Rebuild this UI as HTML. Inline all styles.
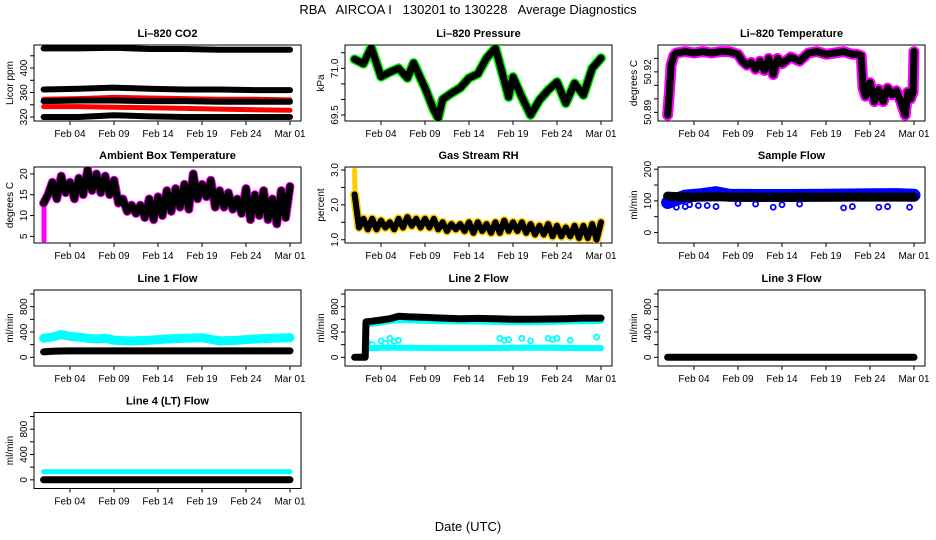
<!DOCTYPE html>
<html><head><meta charset="utf-8">
<style>
html,body{margin:0;padding:0;background:#fff;}
svg{display:block;font-family:"Liberation Sans",sans-serif;}
</style></head>
<body>
<svg id="chart" width="936" height="540" viewBox="0 0 936 540">
<text x="468" y="14" text-anchor="middle" font-size="13" style="white-space:pre">RBA   AIRCOA I   130201 to 130228   Average Diagnostics</text>
<text x="468" y="531" text-anchor="middle" font-size="13">Date (UTC)</text>
</svg>
<script>
const xTickLabels = ["Feb 04","Feb 09","Feb 14","Feb 19","Feb 24","Mar 01"];
const xTickDays = [3,8,13,18,23,28];

const co2Days = [0,4,8,12,16,20,24,28];
const co2Top = [432,432,433,431,431,430,430,430];
const co2Mid = [365,366,368,366,365,365,364,364];
const co2Low = [346,347,347,346,346,345,345,345];
const co2Ref = [320,320,323,321,320,320,320,320];
const co2RedHi = [349,350,352,351,350,349,349,348];
const co2RedCirc = [337,337,336,335,334,333,332,331];

const presDays = [0,1,1.9,3,4,5,6,6.7,8,9,9.5,10,11,12,13,14,15,16,17,17.5,18,19,20,21,22,23,24,25,26,27,28];
const presVals = [71.29,71.15,71.67,70.73,70.88,71.0,70.69,71.17,70.37,69.66,69.4,70.0,70.2,70.37,70.69,70.82,71.33,71.65,70.62,70.08,70.72,70.08,69.5,69.98,70.3,70.56,69.88,70.52,70.14,71.0,71.33];

const tempDays = [0,0.2,0.4,0.7,1,2,3,4,5,6,7,8,8.5,9,9.5,10,10.5,11,11.5,12,12.5,13,14,15,16,17,18,19,20,21,21.5,22,22.2,22.5,23,23.5,24,24.5,25,25.5,26,26.5,27,27.3,27.6,27.9,28];
const tempVals = [50.888,50.905,50.925,50.932,50.934,50.935,50.934,50.935,50.934,50.935,50.935,50.933,50.928,50.925,50.927,50.922,50.928,50.921,50.93,50.918,50.93,50.926,50.931,50.928,50.934,50.935,50.933,50.934,50.935,50.933,50.933,50.932,50.908,50.902,50.912,50.898,50.907,50.898,50.908,50.903,50.906,50.898,50.888,50.905,50.9,50.905,50.935];

const halfDays = [0,0.5,1,1.5,2,2.5,3,3.5,4,4.5,5,5.5,6,6.5,7,7.5,8,8.5,9,9.5,10,10.5,11,11.5,12,12.5,13,13.5,14,14.5,15,15.5,16,16.5,17,17.5,18,18.5,19,19.5,20,20.5,21,21.5,22,22.5,23,23.5,24,24.5,25,25.5,26,26.5,27,27.5,28];
const ambVals = [13,15,18,14,19.5,15.5,18,14,19,15,21,16,20,15.5,19.5,15,18.5,13,14,11,12.5,10.5,12.5,9.5,14,9,14.5,10,16,11,16.5,12,17.5,11.5,20,14,17.5,14.5,18.5,12,16,12,15.5,11.5,14,10.5,16.5,9,15,10,16,9,14,8,16,9.5,17];
const ambStartVals = [4,9,13];
const rhVals = [2.3,1.35,1.6,1.3,1.6,1.3,1.55,1.35,1.5,1.3,1.6,1.35,1.65,1.4,1.6,1.35,1.6,1.35,1.6,1.3,1.5,1.25,1.45,1.3,1.45,1.25,1.5,1.2,1.5,1.25,1.45,1.2,1.5,1.2,1.55,1.25,1.5,1.25,1.5,1.2,1.45,1.15,1.4,1.15,1.45,1.1,1.4,1.1,1.35,1.1,1.4,1.05,1.4,1.05,1.45,1.0,1.5];
const rhYellowStart = [3.0,2.4,1.5];

const sampleDays = [0,2,4,5.5,7,10,14,18,22,26,28];
const sampleBlue = [95,115,120,126,118,117,117,118,119,120,118];
const sampleBlack = [115,112,112,113,112,112,112,112,112,112,112];
const sampleOutDays = [0.5,1,2,2.5,3.5,4.5,5.5,8,10,12,13,15,20,21,24,25,27.5];
const sampleOutVals = [90,80,82,88,85,85,82,92,90,80,88,90,78,82,80,82,80];

const l1Days = [0,1,2,3,4,5,6,7,8,10,12,14,16,18,20,22,24,26,28];
const l1Cyan = [300,320,360,330,320,300,290,300,270,260,270,290,300,310,260,270,290,300,310];
const l1Black = [85,95,100,102,102,102,102,102,102,102,102,102,102,102,102,102,102,102,102];

const l2Days = [0,1.2,1.3,2,3,4,5,6,8,10,12,14,16,18,20,22,24,26,28];
const l2Black = [0,0,560,570,590,610,650,640,630,620,610,615,610,600,600,605,610,620,620];
const l2CyanHi = [0,0,520,530,550,570,590,585,575,570,565,565,560,555,555,560,565,570,575];
const l2CyanLowDays = [1.3,3,6,10,14,18,22,26,28];
const l2CyanLow = [140,150,150,145,145,150,150,145,145];
const l2OutDays = [1.5,2,3,3.5,4,4.5,5,16.5,17,17.5,19,20,22,22.5,23,24.5,27.5];
const l2OutVals = [230,200,260,220,300,250,270,300,270,280,300,260,300,280,300,270,320];

const l3Days = [0,28];
const l3Black = [0,0];
const l4Days = [0,28];
const l4Cyan = [130,130];
const l4Black = [0,0];

const svg = document.getElementById('chart');
const NS = 'http://www.w3.org/2000/svg';
function mk(tag, attrs, parent){
  const e = document.createElementNS(NS, tag);
  for (const k in attrs) e.setAttribute(k, attrs[k]);
  (parent||svg).appendChild(e);
  return e;
}
const W = 267, H = 76;
function makePanel(name, bx, by, title, ylab, yMin, yMax, ticks, labels){
  const g = mk('g', {});
  
  
  const xs = d => bx + 9.6 + 8.8 * d;
  const ys = v => by + H - (v - yMin) / (yMax - yMin) * H;
  const t = mk('text', {x: bx + W/2, y: by - 8, 'text-anchor':'middle', 'font-size':11, 'font-weight':'bold'}, g);
  t.textContent = title;
  
  
  const box = mk('rect', {x: bx, y: by, width: W, height: H, fill:'none', stroke:'#000', 'stroke-width':1}, g);
  
  
  const xa = mk('g', {}, g);
  
  
  mk('line', {x1: bx, x2: bx + W, y1: by + H, y2: by + H, stroke:'#000'}, xa);
  xTickDays.forEach((d, i) => {
    mk('line', {x1: xs(d), x2: xs(d), y1: by + H, y2: by + H + 4, stroke:'#000'}, xa);
    const tl = mk('text', {x: xs(d), y: by + H + 16, 'text-anchor':'middle', 'font-size':10}, xa);
    tl.textContent = xTickLabels[i];
  });
  const ya = mk('g', {}, g);
  
  
  ticks.forEach(v => {
    mk('line', {x1: bx - 4, x2: bx, y1: ys(v), y2: ys(v), stroke:'#000'}, ya);
  });
  labels.forEach(v => {
    const yl = mk('text', {x: 0, y: 0, 'text-anchor':'middle', 'font-size':10,
      transform: 'translate(' + (bx - 7) + ',' + ys(v) + ') rotate(-90)'}, ya);
    yl.textContent = String(v);
  });
  const yt = mk('text', {x:0, y:0, 'text-anchor':'middle', 'font-size':10,
    transform: 'translate(' + (bx - 21) + ',' + (by + H/2) + ') rotate(-90)'}, g);
  yt.textContent = ylab;
  
  
  const clip = 'clip-' + name;
  const cp = mk('clipPath', {id: clip}, g);
  mk('rect', {x: bx, y: by, width: W, height: H}, cp);
  const plot = mk('g', {'clip-path': 'url(#' + clip + ')'}, g);
  return {xs, ys, plot};
}
function band(p, days, vals, color, w, name){
  const pts = days.map((d, i) => p.xs(d).toFixed(1) + ',' + p.ys(vals[i]).toFixed(1)).join(' ');
  const e = mk('polyline', {points: pts, fill:'none', stroke: color, 'stroke-width': w, 'stroke-linejoin':'round', 'stroke-linecap':'round'}, p.plot);
  
  
}
function dots(p, days, vals, color, name){
  days.forEach((d, i) => {
    const c = mk('circle', {cx: p.xs(d), cy: p.ys(vals[i]), r: 2.5, fill:'none', stroke: color, 'stroke-width': 1.8}, p.plot);
    
    
  });
}
const rows = [45, 167, 290, 412.5];
const cols = [34, 345, 658];
const flowTicks = [0,200,400,600,800,1000];
const flowLabels = [0,400,800];

let p = makePanel('co2', cols[0], rows[0], 'Li\u2013820 CO2', 'Licor ppm', 313.5, 437.6, [320,340,360,380,400,420], [320,360,400]);
band(p, co2Days, co2RedHi, '#f00', 5, 'co2-red-upper-series');
band(p, co2Days, co2RedCirc, '#f00', 5, 'co2-red-lower-series');
band(p, co2Days, co2Top, '#000', 6, 'co2-black-top-series');
band(p, co2Days, co2Mid, '#000', 6, 'co2-black-mid-series');
band(p, co2Days, co2Low, '#000', 6, 'co2-black-low-series');
band(p, co2Days, co2Ref, '#000', 6, 'co2-black-ref-series');

p = makePanel('pressure', cols[1], rows[0], 'Li\u2013820 Pressure', 'kPa', 69.307, 71.75, [69.5,70.0,70.5,71.0,71.5], ['69.5','71.0']);
band(p, presDays, presVals, '#0e0', 10, 'pressure-green-series');
band(p, presDays, presVals, '#000', 7, 'pressure-black-series');

p = makePanel('li820-temp', cols[2], rows[0], 'Li\u2013820 Temperature', 'degrees C', 50.8836, 50.9399, [50.89,50.90,50.91,50.92,50.93], ['50.89','50.92']);
band(p, tempDays, tempVals, '#f0f', 11, 'li820-temp-magenta-series');
band(p, tempDays, tempVals, '#000', 7, 'li820-temp-black-series');

p = makePanel('ambient-temp', cols[0], rows[1], 'Ambient Box Temperature', 'degrees C', 3.41, 21.66, [5,10,15,20], [5,10,15,20]);
band(p, [0.05,0.05,0.05], ambStartVals, '#f0f', 5, 'ambient-magenta-start');
band(p, halfDays, ambVals, '#f0f', 9, 'ambient-magenta-series');
band(p, halfDays, ambVals, '#000', 7, 'ambient-black-series');

p = makePanel('gas-rh', cols[1], rows[1], 'Gas Stream RH', 'percent', 0.907, 3.085, [1.0,1.5,2.0,2.5,3.0], ['1.0','2.0','3.0']);
band(p, [0,0.05,0.3], rhYellowStart, '#fc0', 5, 'rh-yellow-start');
band(p, halfDays, rhVals, '#fc0', 9, 'rh-yellow-series');
band(p, halfDays, rhVals, '#000', 6, 'rh-black-series');

p = makePanel('sample-flow', cols[2], rows[1], 'Sample Flow', 'ml/min', -33, 207, [0,50,100,150,200], [0,100,200]);
band(p, sampleDays, sampleBlue, '#00f', 13, 'sample-blue-series');
dots(p, sampleOutDays, sampleOutVals, '#00f', 'sample-blue-outlier');
band(p, sampleDays, sampleBlack, '#000', 9, 'sample-black-series');

p = makePanel('line1-flow', cols[0], rows[2], 'Line 1 Flow', 'ml/min', -137, 1063, flowTicks, flowLabels);
band(p, l1Days, l1Cyan, '#0ff', 9, 'line1-cyan-series');
band(p, l1Days, l1Black, '#000', 7, 'line1-black-series');

p = makePanel('line2-flow', cols[1], rows[2], 'Line 2 Flow', 'ml/min', -137, 1063, flowTicks, flowLabels);
band(p, l2Days, l2CyanHi, '#0ff', 6, 'line2-cyan-upper-series');
band(p, l2CyanLowDays, l2CyanLow, '#0ff', 6, 'line2-cyan-lower-series');
dots(p, l2OutDays, l2OutVals, '#0ff', 'line2-cyan-outlier');
band(p, l2Days, l2Black, '#000', 7, 'line2-black-series');

p = makePanel('line3-flow', cols[2], rows[2], 'Line 3 Flow', 'ml/min', -137, 1063, flowTicks, flowLabels);
band(p, l3Days, l3Black, '#000', 7, 'line3-black-series');

p = makePanel('line4-flow', cols[0], rows[3], 'Line 4 (LT) Flow', 'ml/min', -137, 1063, flowTicks, flowLabels);
band(p, l4Days, l4Cyan, '#0ff', 5, 'line4-cyan-series');
band(p, l4Days, l4Black, '#000', 7, 'line4-black-series');
</script>
</body></html>
